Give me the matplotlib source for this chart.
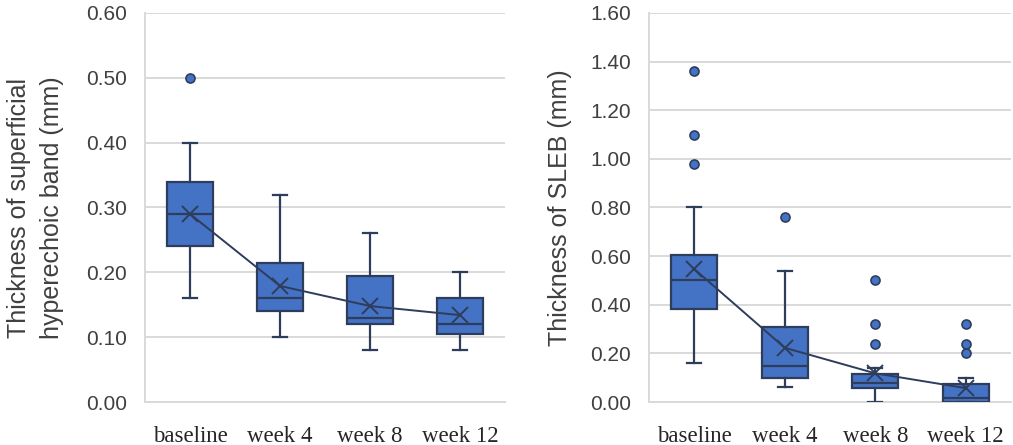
import matplotlib
matplotlib.use("Agg")
import matplotlib.pyplot as plt

categories = ["baseline", "week 4", "week 8", "week 12"]

# Left panel: superficial hyperechoic band (mm)
L_whislo = [0.16, 0.10, 0.08, 0.08]
L_q1     = [0.24, 0.14, 0.12, 0.105]
L_med    = [0.29, 0.16, 0.13, 0.12]
L_q3     = [0.34, 0.215, 0.195, 0.16]
L_whishi = [0.40, 0.32, 0.26, 0.20]
L_mean   = [0.29, 0.179, 0.148, 0.134]
L_fliers = [[0.50], [], [], []]

# Right panel: SLEB (mm)
R_whislo = [0.16, 0.06, 0.0, 0.0]
R_q1     = [0.383, 0.10, 0.057, 0.0]
R_med    = [0.50, 0.147, 0.077, 0.018]
R_q3     = [0.605, 0.31, 0.115, 0.074]
R_whishi = [0.80, 0.54, 0.14, 0.10]
R_mean   = [0.547, 0.223, 0.118, 0.057]
R_fliers = [[1.36, 1.10, 0.98], [0.76], [0.50, 0.32, 0.24], [0.32, 0.24, 0.20]]

L_label = "Thickness of superficial\nhyperechoic band (mm)"
R_label = "Thickness of SLEB (mm)"
L_ticks = [0.0, 0.1, 0.2, 0.3, 0.4, 0.5, 0.6]
R_ticks = [0.0, 0.2, 0.4, 0.6, 0.8, 1.0, 1.2, 1.4, 1.6]

FILL = "#4472C4"
EDGE = "#2E3D5C"
GRID = "#D9D9D9"
TXT = "#404040"

fig = plt.figure(figsize=(10.13, 4.45), dpi=100)
W, H = 1013, 445
axL = fig.add_axes([145 / W, 43 / H, 360 / W, 389 / H])
axR = fig.add_axes([649 / W, 43 / H, 362 / W, 389 / H])


def draw(ax, whislo, q1, med, q3, whishi, mean, fliers, ticks, label, labx):
    stats = []
    for i in range(len(categories)):
        stats.append(dict(whislo=whislo[i], q1=q1[i], med=med[i], q3=q3[i],
                          whishi=whishi[i], mean=mean[i], fliers=fliers[i],
                          label=categories[i]))
    pos = list(range(len(categories)))
    ax.set_axisbelow(True)
    ax.grid(axis="y", color=GRID, lw=1.4)
    ax.bxp(stats, positions=pos, widths=0.51, patch_artist=True,
           showmeans=True, meanline=False, showfliers=True,
           boxprops=dict(facecolor=FILL, edgecolor=EDGE, lw=1.6),
           medianprops=dict(color=EDGE, lw=1.6),
           whiskerprops=dict(color=EDGE, lw=1.6),
           capprops=dict(color=EDGE, lw=1.6),
           capwidths=0.15,
           flierprops=dict(marker="o", markerfacecolor=FILL,
                           markeredgecolor=EDGE, markersize=6.5, mew=1.2),
           meanprops=dict(marker="x", markeredgecolor=EDGE,
                          markersize=11, mew=1.4),
           zorder=3)
    ax.plot(pos, mean, color=EDGE, lw=1.4, zorder=4)
    ax.set_xlim(-0.5, len(categories) - 0.5)
    ax.set_ylim(ticks[0], ticks[-1])
    ax.set_yticks(ticks)
    ax.set_yticklabels([f"{t:.2f}" for t in ticks], fontsize=15,
                       color=TXT, family="Liberation Sans")
    ax.set_xticks(pos)
    ax.set_xticklabels(categories, fontsize=16.5, family="Liberation Serif",
                       color="#262626")
    ax.tick_params(axis="both", length=0)
    ax.tick_params(axis="y", pad=13)
    ax.tick_params(axis="x", pad=17)
    for s in ["top", "right"]:
        ax.spines[s].set_visible(False)
    for s in ["left", "bottom"]:
        ax.spines[s].set_color(GRID)
        ax.spines[s].set_linewidth(1.4)
    ax.set_ylabel(label, fontsize=18, color=TXT, family="Liberation Sans",
                  linespacing=1.45)
    ax.yaxis.set_label_coords(labx, 0.5)


draw(axL, L_whislo, L_q1, L_med, L_q3, L_whishi, L_mean, L_fliers,
     L_ticks, L_label, (64 - 145) / 360)
draw(axR, R_whislo, R_q1, R_med, R_q3, R_whishi, R_mean, R_fliers,
     R_ticks, R_label, (572 - 649) / 362)

fig.savefig("out.png", dpi=100)
